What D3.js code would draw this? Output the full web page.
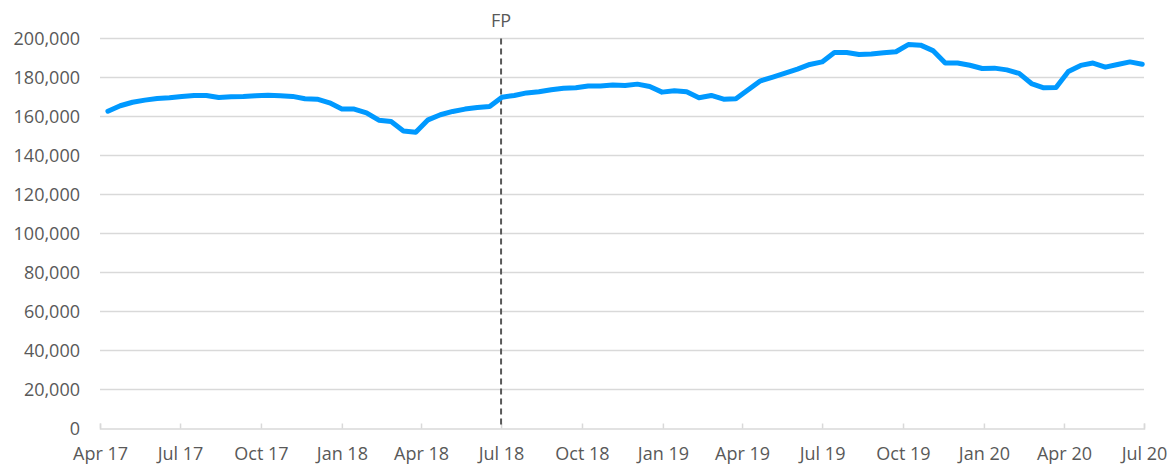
<!DOCTYPE html>
<html>
<head>
<meta charset="utf-8">
<script src="https://cdn.jsdelivr.net/npm/d3@7"></script>
<style>
  body { margin: 0; background: #fff; }
  #chart text { font-family: "Open Sans", "Liberation Sans", sans-serif; fill: #595959; }
</style>
</head>
<body>
<div id="chart"></div>
<script>
// fortnightly readings, first one on 10 Apr 2017
const startDate = new Date(2017, 3, 10);
const stepDays = 14;

const values = [
  162700, 165500, 167300, 168400, 169200, 169600, 170300, 170800, 170800, 169700,
  170100, 170200, 170600, 170900, 170600, 170300, 169100, 168900, 167000, 163900,
  163800, 161900, 158100, 157400, 152600, 151900, 158300, 160900, 162600, 163800,
  164600, 165100, 169900, 170800, 172100, 172700, 173700, 174500, 174700, 175600,
  175700, 176200, 175900, 176600, 175400, 172500, 173200, 172700, 169600, 170800,
  168900, 169100, 173700, 178300, 180200, 182200, 184300, 186700, 188000, 192800,
  192800, 191800, 192100, 192700, 193200, 196900, 196600, 193800, 187400, 187400,
  186300, 184600, 184800, 183900, 182100, 176900, 174700, 174900, 183100, 186200,
  187400, 185300, 186700, 188000, 186800
];

const xDomain = [new Date(2017, 3, 1), new Date(2020, 6, 1)];
const yTicks = [0, 20000, 40000, 60000, 80000, 100000, 120000, 140000, 160000, 180000, 200000];
const markerDate = new Date(2018, 6, 1);
const markerLabel = "FP";

const data = values.map((v, i) => ({
  date: d3.timeDay.offset(startDate, i * stepDays),
  value: v,
}));

const width = 1176;
const height = 468;

const svg = d3
  .select("#chart")
  .append("svg")
  .attr("width", width)
  .attr("height", height);

const x = d3.scaleTime().domain(xDomain).range([100, 1144]);
const y = d3.scaleLinear().domain([0, 200000]).range([428.5, 38.5]);

// gridlines
svg
  .append("g")
  .selectAll("line")
  .data(yTicks.slice(1))
  .enter()
  .append("line")
  .attr("x1", x.range()[0])
  .attr("x2", x.range()[1])
  .attr("y1", (d) => y(d))
  .attr("y2", (d) => y(d))
  .attr("stroke", "#d9d9d9")
  .attr("stroke-width", 1.5);

// y labels
const yAxis = svg
  .append("g")
  .attr("transform", "translate(80,0)")
  .call(d3.axisLeft(y).tickValues(yTicks).tickFormat(d3.format(",")).tickSize(0).tickPadding(0));
yAxis.select(".domain").remove();
yAxis.selectAll("text").style("font-size", "18px");

// x axis, ticks pointing up into the plot
const xAxis = svg
  .append("g")
  .attr("transform", `translate(0,${y(0)})`)
  .call(
    d3
      .axisBottom(x)
      .ticks(d3.timeMonth.every(3))
      .tickFormat(d3.timeFormat("%b %y"))
      .tickSize(-5)
      .tickSizeOuter(-5)
      .tickPadding(19)
  );
xAxis.select(".domain").attr("stroke", "#d9d9d9").attr("stroke-width", 1.5);
xAxis.selectAll(".tick line").attr("stroke", "#d9d9d9").attr("stroke-width", 1.5);
xAxis.selectAll("text").style("font-size", "18px");

// FP marker
svg
  .append("line")
  .attr("x1", x(markerDate))
  .attr("x2", x(markerDate))
  .attr("y1", y(200000))
  .attr("y2", y(0))
  .attr("stroke", "#595959")
  .attr("stroke-width", 2)
  .attr("stroke-dasharray", "6,4");

svg
  .append("text")
  .attr("x", x(markerDate))
  .attr("y", 27)
  .attr("text-anchor", "middle")
  .style("font-size", "18px")
  .text(markerLabel);

// the series
const line = d3
  .line()
  .x((d) => x(d.date))
  .y((d) => y(d.value));

svg
  .append("path")
  .datum(data)
  .attr("d", line)
  .attr("fill", "none")
  .attr("stroke", "#0099ff")
  .attr("stroke-width", 5)
  .attr("stroke-linejoin", "round")
  .attr("stroke-linecap", "round");
</script>
</body>
</html>
